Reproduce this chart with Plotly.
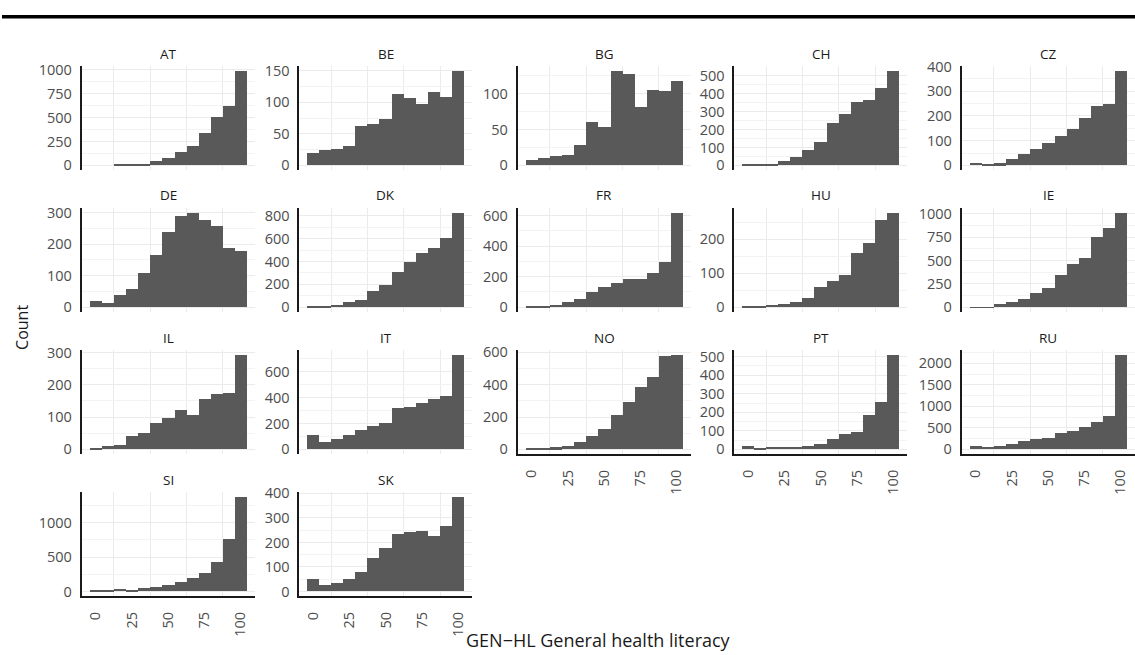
import plotly.graph_objects as go

# ---------------- data (counts per bin, 13 bins centred on 0, 8.33, ..., 100) ----------------
bin_labels_x = [0, 25, 50, 75, 100]
n_bins = 13
bin_width = 100 / (n_bins - 1)
bin_centers = [i * bin_width for i in range(n_bins)]

AT = [0, 0, 6, 4, 15, 42, 77, 140, 205, 341, 509, 617, 990]
BE = [19, 25, 26, 31, 63, 65, 73, 113, 107, 97, 117, 109, 150]
BG = [8, 10, 13, 15, 29, 61, 54, 132, 127, 82, 105, 104, 118]
CH = [2, 2, 9, 26, 48, 86, 132, 239, 285, 351, 362, 432, 528]
CZ = [11, 5, 8, 25, 44, 65, 92, 119, 148, 193, 241, 249, 383]
DE = [20, 14, 38, 59, 110, 165, 240, 289, 300, 277, 257, 188, 179]
DK = [14, 9, 20, 46, 66, 146, 197, 311, 400, 474, 517, 606, 829]
FR = [8, 8, 17, 38, 53, 98, 130, 162, 188, 184, 222, 295, 620]
HU = [4, 5, 7, 10, 16, 27, 61, 79, 96, 159, 190, 258, 279]
IE = [3, 3, 31, 56, 94, 157, 203, 350, 462, 524, 759, 853, 1014]
IL = [5, 11, 13, 40, 52, 82, 96, 123, 106, 156, 172, 175, 293]
IT = [110, 55, 80, 110, 150, 180, 200, 320, 330, 355, 390, 415, 730]
NO = [5, 8, 12, 20, 45, 85, 125, 215, 290, 385, 450, 580, 585]
PT = [18, 5, 15, 12, 15, 20, 30, 55, 80, 95, 185, 255, 510]
RU = [70, 60, 80, 120, 200, 230, 270, 380, 430, 510, 640, 780, 2200]
SI = [15, 20, 30, 25, 45, 60, 95, 140, 200, 270, 430, 760, 1370]
SK = [50, 25, 35, 50, 80, 135, 175, 235, 240, 245, 225, 265, 385]

countries = ["AT", "BE", "BG", "CH", "CZ", "DE", "DK", "FR", "HU", "IE",
             "IL", "IT", "NO", "PT", "RU", "SI", "SK"]
series = [AT, BE, BG, CH, CZ, DE, DK, FR, HU, IE, IL, IT, NO, PT, RU, SI, SK]
y_tick_steps = [250, 50, 50, 100, 100, 100, 200, 200, 100, 250,
                100, 200, 200, 100, 500, 500, 100]
bottom_panels = ["NO", "PT", "RU", "SI", "SK"]

x_title = "GEN\u2212HL General health literacy"
y_title = "Count"

# ---------------- layout geometry (pixels) ----------------
W, H = 1135, 655
# the page is photographed with a small vertical offset/scale; map target
# screen y-pixels to figure y-pixels
OFF_Y, SCALE_Y = 7.3, 0.9825


def fy(t):
    return (t - OFF_Y) / SCALE_Y


col_left = [81.7, 299.3, 517.7, 734.3, 961.7]
panel_w = 173.0
row_top_t = [64.5, 206.6, 349.2, 491.7]
panel_h_t = 104.3

BAR = "#595959"
GRID = "#EBEBEB"
GRID_MINOR = "#F3F3F3"
AXIS = "#1A1A1A"
FONT = "Open Sans"

x_lo = -bin_width / 2
x_hi = 100 + bin_width / 2
x_pad = 0.05 * (x_hi - x_lo)

fig = go.Figure()
layout = {}
annotations = []

for i, (name, vals, step) in enumerate(zip(countries, series, y_tick_steps)):
    r, c = divmod(i, 5)
    idx = i + 1
    xs = "x" if idx == 1 else f"x{idx}"
    ys = "y" if idx == 1 else f"y{idx}"
    xk = "xaxis" if idx == 1 else f"xaxis{idx}"
    yk = "yaxis" if idx == 1 else f"yaxis{idx}"
    x0 = col_left[c] / W
    x1 = (col_left[c] + panel_w) / W
    y1 = 1 - fy(row_top_t[r]) / H
    y0 = 1 - fy(row_top_t[r] + panel_h_t) / H
    M = max(vals)
    bottom = name in bottom_panels

    fig.add_trace(go.Bar(
        x=bin_centers, y=vals, width=bin_width,
        marker=dict(color=BAR, line=dict(width=0)),
        xaxis=xs, yaxis=ys, showlegend=False, name=name,
    ))

    layout[xk] = dict(
        domain=[x0, x1], anchor=ys,
        range=[x_lo - x_pad, x_hi + x_pad],
        tickmode="array", tickvals=bin_labels_x,
        ticktext=[str(v) for v in bin_labels_x],
        showgrid=False, zeroline=False,
        showticklabels=bottom, tickangle=-90,
        ticks="", ticklabelstandoff=8,
        showline=bottom, linecolor=AXIS, linewidth=1.8,
        tickfont=dict(family=FONT, size=14.5, color="#4D4D4D"),
        minor=dict(tickmode="linear", tick0=12.5, dtick=25, showgrid=True,
                   gridcolor=GRID, gridwidth=1),
        fixedrange=True,
    )
    layout[yk] = dict(
        domain=[y0, y1], anchor=xs,
        range=[-0.05 * M, 1.05 * M],
        tickmode="linear", tick0=0, dtick=step,
        showgrid=True, gridcolor=GRID, gridwidth=1,
        zeroline=False, showline=True, linecolor=AXIS, linewidth=1.8,
        ticks="", ticklabelstandoff=5,
        tickfont=dict(family=FONT, size=14.5, color="#4D4D4D"),
        minor=dict(tickmode="linear", tick0=0, dtick=step / 2, showgrid=True,
                   gridcolor=GRID_MINOR, gridwidth=1),
        fixedrange=True,
    )
    annotations.append(dict(
        text=name, xref="paper", yref="paper",
        x=(col_left[c] + panel_w / 2) / W, y=1 - fy(row_top_t[r] - 12.5) / H,
        xanchor="center", yanchor="middle", showarrow=False,
        font=dict(family=FONT, size=13.5, color="#1A1A1A"),
    ))

annotations.append(dict(
    text=y_title, xref="paper", yref="paper", x=22 / W, y=1 - fy(327) / H,
    xanchor="center", yanchor="middle", textangle=-90, showarrow=False,
    font=dict(family=FONT, size=16, color="#1A1A1A"),
))
annotations.append(dict(
    text=x_title, xref="paper", yref="paper", x=598 / W, y=0,
    xanchor="center", yanchor="bottom", yshift=-3, showarrow=False,
    font=dict(family=FONT, size=18, color="#1A1A1A"),
))

fig.update_layout(
    width=W, height=H,
    margin=dict(l=0, r=0, t=0, b=0),
    paper_bgcolor="white", plot_bgcolor="white",
    bargap=0, barmode="overlay",
    annotations=annotations,
    shapes=[dict(type="line", xref="paper", yref="paper",
                 x0=2 / W, x1=1, y0=1 - fy(15) / H, y1=1 - fy(15) / H,
                 line=dict(color="black", width=3.5))],
    **layout,
)

fig.write_html(
    "out.html",
    config={"displayModeBar": False},
    post_script=(
        "document.documentElement.style.margin='0';"
        "document.body.style.margin='0';document.body.style.padding='0';"
        "document.body.style.overflow='hidden';"
        "var d=document.getElementsByClassName('plotly-graph-div')[0];"
        "d.style.position='absolute';d.style.left='0px';d.style.top='0px';"
    ),
)
